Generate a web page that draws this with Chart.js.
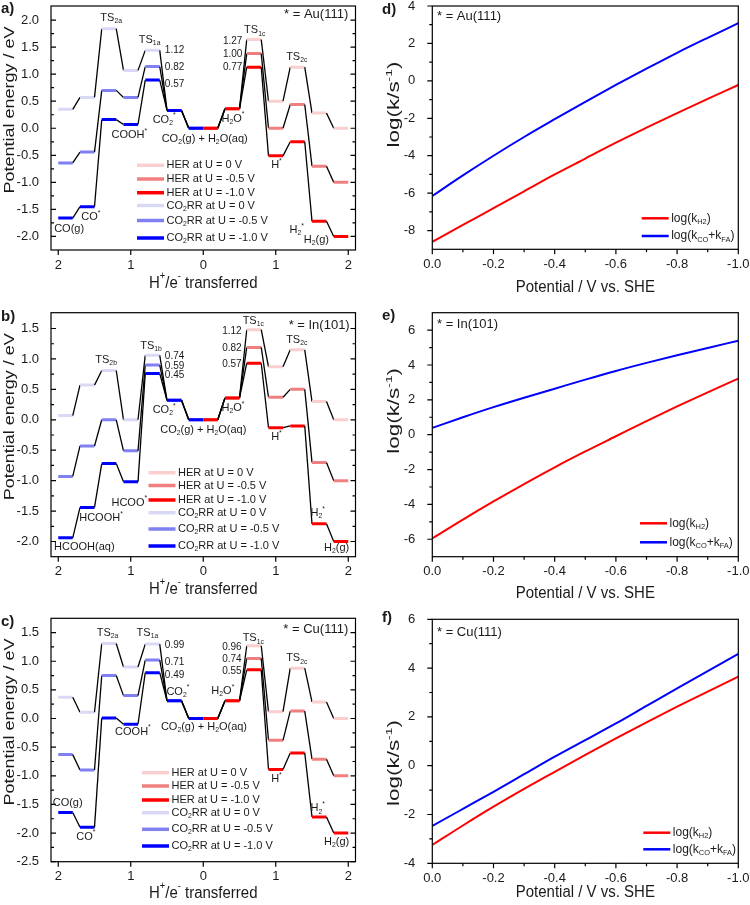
<!DOCTYPE html>
<html>
<head>
<meta charset="utf-8">
<title>Potential energy diagrams and rate constants</title>
<script src="https://cdn.jsdelivr.net/npm/chart.js@4.4.1/dist/chart.umd.min.js"></script>
<style>
  html, body { margin: 0; padding: 0; background: #fff; }
  #fig { position: relative; width: 750px; height: 905px; overflow: hidden; }
  #fig canvas { position: absolute; left: 0; top: 0; }
</style>
</head>
<body>
<div id="fig"></div>
<script>
// ---------- values ----------

// state centres on the H+/e- axis: CO2RR runs to the left of 0, HER to the right
const co2rrSteps = [-1.9, -1.6, -1.3, -1.0, -0.7, -0.4, -0.1];
const herSteps = [0.1, 0.4, 0.7, 1.0, 1.3, 1.6, 1.9];

// a) Au(111)   CO(g), CO*, TS2a, COOH*, TS1a, CO2*, CO2(g)
const auCO2RR0 = [0.35, 0.57, 1.84, 1.07, 1.44, 0.33, 0];
const auCO2RR05 = [-0.64, -0.44, 0.70, 0.57, 1.14, 0.33, 0];
const auCO2RR10 = [-1.66, -1.45, 0.16, 0.07, 0.89, 0.33, 0];
//              CO2(g), H2O*, TS1c, H*, TS2c, H2*, H2(g)
const auHER0 = [0, 0.36, 1.64, 0.50, 1.13, 0.28, 0];
const auHER05 = [0, 0.36, 1.38, 0.00, 0.44, -0.70, -1.0];
const auHER10 = [0, 0.36, 1.13, -0.51, -0.25, -1.72, -2.0];

// b) In(101)   HCOOH(aq), HCOOH*, TS2b, HCOO*, TS1b, CO2*, CO2(g)
const inCO2RR0 = [0.07, 0.57, 0.81, 0.00, 1.06, 0.32, 0];
const inCO2RR05 = [-0.93, -0.43, 0.00, -0.51, 0.90, 0.32, 0];
const inCO2RR10 = [-1.94, -1.44, -0.72, -1.02, 0.76, 0.32, 0];
const inHER0 = [0, 0.36, 1.48, 0.87, 1.15, 0.30, 0];
const inHER05 = [0, 0.36, 1.19, 0.37, 0.50, -0.70, -1.0];
const inHER10 = [0, 0.36, 0.93, -0.13, -0.10, -1.71, -2.0];

// c) Cu(111)   CO(g), CO*, TS2a, COOH*, TS1a, CO2*, CO2(g)
const cuCO2RR0 = [0.37, 0.11, 1.31, 0.90, 1.30, 0.31, 0];
const cuCO2RR05 = [-0.63, -0.90, 0.75, 0.40, 1.02, 0.31, 0];
const cuCO2RR10 = [-1.64, -1.90, 0.01, -0.10, 0.80, 0.31, 0];
const cuHER0 = [0, 0.31, 1.27, 0.12, 0.88, 0.29, 0];
const cuHER05 = [0, 0.31, 1.05, -0.38, 0.13, -0.71, -1.0];
const cuHER10 = [0, 0.31, 0.85, -0.89, -0.60, -1.72, -2.0];

// d-f) log(k / s^-1) against potential
const potential = [0, -0.1, -0.2, -0.3, -0.4, -0.5, -0.6, -0.7, -0.8, -0.9, -1.0];
const auKH2 = [-8.6, -7.7, -6.8, -5.9, -5.0, -4.15, -3.3, -2.5, -1.72, -0.96, -0.22];
const auKCOFA = [-6.15, -5.05, -4.0, -3.0, -2.05, -1.12, -0.22, 0.65, 1.5, 2.3, 3.08];
const inKH2 = [-5.95, -4.87, -3.83, -2.83, -1.87, -0.96, -0.09, 0.78, 1.62, 2.43, 3.22];
const inKCOFA = [0.39, 1.0, 1.58, 2.12, 2.64, 3.16, 3.66, 4.12, 4.56, 4.98, 5.39];
const cuKH2 = [-3.25, -2.45, -1.68, -0.95, -0.25, 0.44, 1.12, 1.78, 2.42, 3.04, 3.65];
const cuKCOFA = [-2.47, -1.77, -1.07, -0.35, 0.37, 1.05, 1.73, 2.45, 3.17, 3.88, 4.58];

// tick values
const transferTicks = [-2, -1, 0, 1, 2];
const energyTicksA = [-2, -1.5, -1, -0.5, 0, 0.5, 1, 1.5, 2];
const energyTicksB = [-2, -1.5, -1, -0.5, 0, 0.5, 1, 1.5];
const energyTicksC = [-2.5, -2, -1.5, -1, -0.5, 0, 0.5, 1, 1.5];
const potentialTicks = [0, -0.2, -0.4, -0.6, -0.8, -1.0];
const rateTicksD = [-8, -6, -4, -2, 0, 2, 4];
const rateTicksE = [-6, -4, -2, 0, 2, 4, 6];
const rateTicksF = [-4, -2, 0, 2, 4, 6];

// series names
const herNames = ['HER at U = 0 V', 'HER at U = -0.5 V', 'HER at U = -1.0 V'];
const co2rrNames = ['CO_{2}RR at U = 0 V', 'CO_{2}RR at U = -0.5 V', 'CO_{2}RR at U = -1.0 V'];
const rateNames = ['log(k_{H2})', 'log(k_{CO}+k_{FA})'];

// ---------- styling ----------
const W = 750, H = 905;
const FONT = '"Liberation Sans", Arial, sans-serif';
const TEXT = '#1a1a1a';
const herColors = ['#f9cfcf', '#f08080', '#ff0000'];
const co2rrColors = ['#d9d9f6', '#8080f0', '#0000ff'];
const HALF = 0.1; // half width of an energy level on the H+/e- axis

const fig = document.getElementById('fig');

function parseRich(str) {
  const out = [];
  let buf = '', i = 0;
  while (i < str.length) {
    const c = str[i];
    if ((c === '_' || c === '^') && str[i + 1] === '{') {
      if (buf) { out.push({ t: buf, m: 0 }); buf = ''; }
      const end = str.indexOf('}', i);
      out.push({ t: str.slice(i + 2, end), m: c === '_' ? 1 : 2 });
      i = end + 1;
    } else { buf += c; i++; }
  }
  if (buf) out.push({ t: buf, m: 0 });
  return out;
}

// text with _{sub} and ^{sup} pieces, centred vertically on y
function drawRich(ctx, str, x, y, o) {
  const size = o.size || 11;
  const small = size * 0.62;
  const weight = o.bold ? 'bold ' : '';
  const parts = parseRich(str);
  let w = 0;
  parts.forEach(p => {
    ctx.font = weight + (p.m ? small : size) + 'px ' + FONT;
    p.w = ctx.measureText(p.t).width;
    w += p.w;
  });
  ctx.save();
  ctx.translate(x, y);
  if (o.rotate) { ctx.rotate(-Math.PI / 2); ctx.scale(o.stretch || 1, 1); }
  else ctx.scale(1, o.stretch || 1);
  let cx = o.align === 'right' ? -w : o.align === 'left' ? 0 : -w / 2;
  ctx.textBaseline = 'middle';
  ctx.textAlign = 'left';
  ctx.fillStyle = TEXT;
  parts.forEach(p => {
    ctx.font = weight + (p.m ? small : size) + 'px ' + FONT;
    const dy = p.m === 1 ? size * 0.3 : p.m === 2 ? -size * 0.38 : 0;
    ctx.fillText(p.t, cx, dy);
    cx += p.w;
  });
  ctx.restore();
}

const midpoints = arr => arr.slice(1).map((v, i) => (v + arr[i]) / 2);

// frame, ticks, x tick labels, annotations and legend
Chart.register({
  id: 'deco',
  afterDraw(chart, args, o) {
    const ctx = chart.ctx, a = chart.chartArea;
    const sx = chart.scales.x, sy = chart.scales.y;
    ctx.save();
    ctx.strokeStyle = '#000';
    ctx.lineWidth = 1.2;
    ctx.strokeRect(a.left, a.top, a.right - a.left, a.bottom - a.top);

    ctx.beginPath();
    const yTick = (v, len) => {
      const p = sy.getPixelForValue(v);
      ctx.moveTo(a.left, p);
      ctx.lineTo(a.left + (o.yIn ? len : -len), p);
      if (o.yRight) { ctx.moveTo(a.right, p); ctx.lineTo(a.right - len, p); }
    };
    const xTick = (v, len) => {
      const p = sx.getPixelForValue(v);
      ctx.moveTo(p, a.bottom);
      ctx.lineTo(p, a.bottom + len);
    };
    o.yMajor.forEach(v => yTick(v, 5));
    midpoints(o.yMajor).forEach(v => yTick(v, 3));
    o.xMajor.forEach(v => xTick(v, 5));
    if (o.xMinor) midpoints(o.xMajor).forEach(v => xTick(v, 3));
    ctx.stroke();

    ctx.font = '13px ' + FONT;
    ctx.fillStyle = TEXT;
    ctx.textAlign = 'center';
    ctx.textBaseline = 'middle';
    o.xMajor.forEach(v => ctx.fillText(o.xFmt(v), sx.getPixelForValue(v), a.bottom + 15));

    (o.labels || []).forEach(l => drawRich(ctx, l[0], sx.getPixelForValue(l[1]), sy.getPixelForValue(l[2]),
      { align: l[3] || 'center', size: l[4] || 11 }));
    (o.texts || []).forEach(t => drawRich(ctx, t.t, t.x, t.y, t));

    if (o.legend) {
      const L = o.legend;
      const items = chart.data.datasets.slice().sort((p, q) => p.rank - q.rank);
      items.forEach((ds, i) => {
        const y = L.rows[i];
        ctx.strokeStyle = ds.levelColor || ds.borderColor;
        ctx.lineWidth = L.lw;
        ctx.beginPath();
        ctx.moveTo(L.x0, y);
        ctx.lineTo(L.x1, y);
        ctx.stroke();
        drawRich(ctx, ds.label, L.x1 + 2.5, y, { align: 'left', size: L.size });
      });
    }
    ctx.restore();
  }
});

function makeCanvas() {
  const c = document.createElement('canvas');
  c.width = W; c.height = H;
  c.style.width = W + 'px'; c.style.height = H + 'px';
  fig.appendChild(c);
  return c;
}

function axis(o) {
  return {
    type: 'linear', min: o.min, max: o.max, reverse: !!o.reverse,
    grid: { display: false }, border: { display: false },
    ticks: { display: o.labels !== false, font: { family: FONT, size: 13 }, color: TEXT, padding: o.pad || 0, callback: o.fmt, maxRotation: 0, autoSkip: false },
    afterBuildTicks: s => { s.ticks = o.ticks.map(v => ({ value: v })); },
    afterFit: s => {
      if (s.isHorizontal()) { s.height = o.size; s.paddingLeft = 0; s.paddingRight = 0; }
      else { s.width = o.size; s.paddingTop = 0; s.paddingBottom = 0; }
    }
  };
}

// area = [left, top, right, bottom] of the plot frame, page pixels
function buildChart(p, datasets, xAxis, yAxis) {
  const [l, t, r, b] = p.area;
  p.deco.xFmt = xAxis.fmt;
  return new Chart(makeCanvas(), {
    type: 'line',
    data: { datasets },
    options: {
      responsive: false, animation: false, events: [], devicePixelRatio: 1,
      layout: { padding: { left: l - p.yW, top: t, right: W - r, bottom: 0 } },
      plugins: { legend: { display: false }, tooltip: { enabled: false }, deco: p.deco },
      scales: {
        x: axis(Object.assign({ size: H - b, labels: false }, xAxis)),
        y: axis(Object.assign({ size: p.yW }, yAxis))
      }
    }
  });
}

// one potential: coloured levels joined by thin black lines
function levelSeries(steps, energies, color, label, rank) {
  const data = [];
  steps.forEach((x, i) => {
    data.push({ x: x - HALF, y: energies[i] }, { x: x + HALF, y: energies[i] });
  });
  return {
    label, rank, data, levelColor: color,
    borderColor: color, borderWidth: 3, pointRadius: 0, tension: 0,
    segment: {
      borderColor: c => (c.p0DataIndex % 2 ? '#000' : color),
      borderWidth: c => (c.p0DataIndex % 2 ? 1.3 : 3)
    }
  };
}

function energyPanel(p) {
  const ds = [];
  // darkest first so it is drawn on top
  [2, 1, 0].forEach(k => ds.push(levelSeries(herSteps, p.her[k], herColors[k], herNames[k], k)));
  [2, 1, 0].forEach(k => ds.push(levelSeries(co2rrSteps, p.co2rr[k], co2rrColors[k], co2rrNames[k], 3 + k)));
  const [l, t, r, b] = p.area;
  p.yW = l;
  p.deco = {
    yMajor: p.yTicks, yIn: true, yRight: true, xMajor: transferTicks, xMinor: false,
    labels: p.labels,
    texts: [
      { t: p.letter, x: 1, y: p.letterY, size: 15, bold: true, align: 'left' },
      { t: 'Potential energy / eV', x: 10, y: (t + b) / 2 - 18, size: 15, rotate: true, stretch: 1.2 },
      { t: 'H^{+}/e^{-} transferred', x: (l + r) / 2, y: p.xTitleY, size: 15, stretch: 1.15 }
    ],
    legend: { x0: p.legendX, x1: p.legendX + 27, rows: p.legendRows, lw: 3.5, size: 11 }
  };
  buildChart(p, ds,
    { min: -2.1, max: 2.1, ticks: transferTicks, fmt: v => String(Math.abs(v)) },
    { min: p.yMin, max: p.yMax, ticks: p.yTicks, pad: 4, fmt: v => v.toFixed(1) });
}

function ratePanel(p) {
  const line = (ys, color, label, rank) => ({
    label, rank, borderColor: color, borderWidth: 2, pointRadius: 0, cubicInterpolationMode: 'monotone',
    data: potential.map((u, i) => ({ x: u, y: ys[i] }))
  });
  const ds = [line(p.h2, '#ff0000', rateNames[0], 0), line(p.cofa, '#0000ff', rateNames[1], 1)];
  const [l, t, r, b] = p.area;
  p.yW = l - 375;
  p.deco = {
    yMajor: p.yTicks, yIn: false, yRight: false, xMajor: potentialTicks, xMinor: true,
    texts: [
      { t: p.letter, x: 382, y: p.letterY, size: 15, bold: true, align: 'left' },
      { t: p.surface, x: 437, y: p.surfaceY, size: 13, align: 'left' },
      { t: 'log(k/s^{-1})', x: 395, y: p.yTitleY, size: 16, rotate: true, stretch: 1.4 },
      { t: 'Potential / V vs. SHE', x: (l + r) / 2, y: p.xTitleY, size: 15, stretch: 1.15 }
    ],
    legend: { x0: p.legendX, x1: p.legendX + 27, rows: p.legendRows, lw: 2.5, size: 12 }
  };
  buildChart(p, ds,
    { min: -1, max: 0, reverse: true, ticks: potentialTicks, fmt: v => (v === 0 ? '0.0' : v.toFixed(1)) },
    { min: p.yMin, max: p.yMax, ticks: p.yTicks, pad: 9, fmt: v => String(v) });
}

energyPanel({
  letter: 'a)', letterY: 9, xTitleY: 283, area: [51, 6, 355.5, 250], yMin: -2.25, yMax: 2.26, yTicks: energyTicksA,
  co2rr: [auCO2RR0, auCO2RR05, auCO2RR10], her: [auHER0, auHER05, auHER10],
  legendX: 137, legendRows: [165.3, 179, 192.7, 205.5, 220.5, 238],
  labels: [
    ['TS_{2a}', -1.27, 2.04], ['TS_{1a}', -0.74, 1.64],
    ['1.12', -0.53, 1.44, 'left', 10], ['0.82', -0.53, 1.13, 'left', 10], ['0.57', -0.53, 0.82, 'left', 10],
    ['CO_{2}^{*}', -0.54, 0.16], ['COOH^{*}', -1.02, -0.13], ['CO^{*}', -1.55, -1.64], ['CO(g)', -1.85, -1.87],
    ['CO_{2}(g) + H_{2}O(aq)', 0.02, -0.19],
    ['TS_{1c}', 0.71, 1.81], ['1.27', 0.54, 1.61, 'right', 10], ['1.00', 0.54, 1.37, 'right', 10], ['0.77', 0.54, 1.12, 'right', 10],
    ['H_{2}O^{*}', 0.41, 0.18], ['H^{*}', 1.01, -0.68], ['TS_{2c}', 1.29, 1.32], ['H_{2}^{*}', 1.29, -1.88], ['H_{2}(g)', 1.56, -2.07],
    ['* = Au(111)', 2.0, 2.1, 'right', 13]
  ]
});

energyPanel({
  letter: 'b)', letterY: 316.7, xTitleY: 589, area: [51, 312.7, 355.5, 556.7], yMin: -2.25, yMax: 1.76, yTicks: energyTicksB,
  co2rr: [inCO2RR0, inCO2RR05, inCO2RR10], her: [inHER0, inHER05, inHER10],
  legendX: 148.5, legendRows: [472.7, 485.5, 500, 512.7, 529, 546],
  labels: [
    ['TS_{2b}', -1.34, 0.98], ['TS_{1b}', -0.72, 1.22],
    ['0.74', -0.53, 1.04, 'left', 10], ['0.59', -0.53, 0.88, 'left', 10], ['0.45', -0.53, 0.73, 'left', 10],
    ['CO_{2}^{*}', -0.54, 0.16], ['HCOO^{*}', -1.02, -1.36], ['HCOOH^{*}', -1.41, -1.62], ['HCOOH(aq)', -1.64, -2.09],
    ['CO_{2}(g) + H_{2}O(aq)', 0.0, -0.17],
    ['TS_{1c}', 0.69, 1.63], ['1.12', 0.53, 1.46, 'right', 10], ['0.82', 0.53, 1.17, 'right', 10], ['0.57', 0.53, 0.91, 'right', 10],
    ['H_{2}O^{*}', 0.41, 0.19], ['H^{*}', 1.01, -0.28], ['TS_{2c}', 1.29, 1.31], ['H_{2}^{*}', 1.58, -1.53], ['H_{2}(g)', 1.84, -2.11],
    ['* = In(101)', 2.02, 1.55, 'right', 13]
  ]
});

energyPanel({
  letter: 'c)', letterY: 621.7, xTitleY: 893, area: [51, 618.3, 355.5, 861.7], yMin: -2.5, yMax: 1.75, yTicks: energyTicksC,
  co2rr: [cuCO2RR0, cuCO2RR05, cuCO2RR10], her: [cuHER0, cuHER05, cuHER10],
  legendX: 142, legendRows: [772.7, 786, 800, 812.7, 829.3, 846],
  labels: [
    ['TS_{2a}', -1.32, 1.49], ['TS_{1a}', -0.77, 1.49],
    ['0.99', -0.53, 1.28, 'left', 10], ['0.71', -0.53, 0.99, 'left', 10], ['0.49', -0.53, 0.76, 'left', 10],
    ['CO_{2}^{*}', -0.35, 0.47], ['COOH^{*}', -0.97, -0.23], ['CO(g)', -1.87, -1.48], ['CO^{*}', -1.62, -2.06],
    ['CO_{2}(g) + H_{2}O(aq)', 0.01, -0.15],
    ['TS_{1c}', 0.69, 1.40], ['0.96', 0.53, 1.25, 'right', 10], ['0.74', 0.53, 1.04, 'right', 10], ['0.55', 0.53, 0.83, 'right', 10],
    ['H_{2}O^{*}', 0.27, 0.48], ['H^{*}', 1.01, -1.06], ['TS_{2c}', 1.29, 1.05], ['H_{2}^{*}', 1.58, -1.57], ['H_{2}(g)', 1.84, -2.15],
    ['* = Cu(111)', 2.0, 1.55, 'right', 13]
  ]
});

ratePanel({
  letter: 'd)', letterY: 10, surface: '* = Au(111)', surfaceY: 16.7, yTitleY: 104.5, xTitleY: 287,
  area: [432.3, 6, 738.3, 249.3], yMin: -9, yMax: 4, yTicks: rateTicksD,
  h2: auKH2, cofa: auKCOFA, legendX: 641.7, legendRows: [218.3, 236]
});

ratePanel({
  letter: 'e)', letterY: 315.8, surface: '* = In(101)', surfaceY: 324.3, yTitleY: 410.8, xTitleY: 593,
  area: [432.3, 312.7, 738.3, 556.7], yMin: -7, yMax: 7, yTicks: rateTicksE,
  h2: inKH2, cofa: inKCOFA, legendX: 640, legendRows: [523.3, 542.3]
});

ratePanel({
  letter: 'f)', letterY: 618, surface: '* = Cu(111)', surfaceY: 632.7, yTitleY: 763, xTitleY: 892,
  area: [432.3, 619.3, 738.3, 863.3], yMin: -4, yMax: 6, yTicks: rateTicksF,
  h2: cuKH2, cofa: cuKCOFA, legendX: 643.3, legendRows: [832.7, 849.3]
});
</script>
</body>
</html>
